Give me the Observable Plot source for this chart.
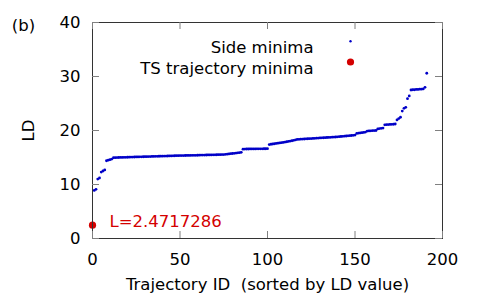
<!DOCTYPE html>
<html><head><meta charset="utf-8">
<script src="https://cdn.jsdelivr.net/npm/d3@7"></script>
<script src="https://cdn.jsdelivr.net/npm/@observablehq/plot@0.6"></script>
<style>
html,body{margin:0;padding:0;background:#fff;}
#chart{position:relative;width:486px;height:300px;}
#chart > svg{position:absolute;left:0;top:0;}
#chart svg.main{font-family:'DejaVu Sans',sans-serif;font-size:16.5px;}
#chart svg.overlay{background:transparent;pointer-events:none;}
</style>
</head><body><div id="chart"></div>
<script>
// Side minima LD values, sorted (trajectory IDs 1..191)
const sideLD = [
  8.9, 9.1, 11.0, 11.2, 12.3, 12.5, 12.7, 14.4, 14.5, 14.6, 14.7,
  14.95, 14.97, 14.98, 15.00, 15.01, 15.02, 15.03, 15.04, 15.05, 15.06,
  15.07, 15.08, 15.09, 15.10, 15.11, 15.12, 15.13, 15.14, 15.15, 15.16,
  15.17, 15.18, 15.19, 15.20, 15.21, 15.22, 15.23, 15.24, 15.25, 15.26,
  15.27, 15.28, 15.29, 15.30, 15.31, 15.32, 15.33, 15.34, 15.35, 15.35,
  15.36, 15.37, 15.38, 15.38, 15.39, 15.40, 15.41, 15.41, 15.42, 15.43,
  15.44, 15.44, 15.45, 15.46, 15.47, 15.47, 15.48, 15.49, 15.50, 15.51,
  15.52, 15.53, 15.54, 15.55, 15.58, 15.62, 15.66, 15.70, 15.74, 15.78,
  15.82, 15.86, 15.90, 15.95,
  16.55, 16.56, 16.57, 16.57, 16.58, 16.58, 16.59, 16.59, 16.60, 16.60, 16.61, 16.61, 16.62, 16.62, 16.63,
  17.40, 17.45, 17.50, 17.55, 17.60, 17.65, 17.70, 17.75, 17.80, 17.86, 17.92, 17.98, 18.04, 18.10, 18.18, 18.26,
  18.35, 18.37, 18.39, 18.41, 18.43, 18.45, 18.47, 18.49, 18.51, 18.53, 18.55, 18.57,
  18.60, 18.62, 18.64, 18.66, 18.68, 18.70, 18.72, 18.74, 18.76, 18.78, 18.80, 18.83, 18.86, 18.89, 18.92, 18.95, 18.98, 19.01, 19.04, 19.07, 19.10, 19.15,
  19.45, 19.50, 19.55, 19.60, 19.65, 19.70,
  19.90, 19.92, 19.94, 19.96, 19.98, 20.00,
  20.30, 20.35, 20.40, 20.45,
  21.05, 21.08, 21.10, 21.12, 21.14, 21.16, 21.20,
  21.95, 22.20, 22.45,
  23.6,
  24.1, 24.3,
  25.9, 26.4,
  27.50, 27.55, 27.55, 27.60, 27.60, 27.65, 27.65, 27.70,
  28.0,
  30.6
];
const tsID = [0];
const tsLD = [2.4717286];
const xTicks = [0, 50, 100, 150, 200];
const yTicks = [0, 10, 20, 30, 40];
const seriesNames = ["Side minima", "TS trajectory minima"];
const panelLabel = "(b)";
const xLabel = "Trajectory ID\u00a0 (sorted by LD value)";
const yLabel = "LD";

const sideData = sideLD.map((v, i) => ({id: i + 1, ld: v}));
const tsData = tsID.map((id, i) => ({id, ld: tsLD[i]}));
const BLUE = "#0000c8", RED = "#d40000", TICK = "#808080", FRAME = "#333333";
const TICKLEN = 7;

const layout = {
  width: 486, height: 300,
  marginLeft: 92, marginRight: 44, marginTop: 22, marginBottom: 62,
  x: {domain: [0, 200], ticks: xTicks},
  y: {domain: [0, 40], ticks: yTicks}
};

const main = Plot.plot({
  ...layout,
  className: "main",
  marks: [
    Plot.axisX(xTicks, {anchor: "bottom", tickSize: 0, tickPadding: 15, label: null}),
    Plot.axisY(yTicks, {anchor: "left", tickSize: 0, tickPadding: 12, label: null}),
    Plot.dot(sideData, {x: "id", y: "ld", r: 1.4, fill: BLUE}),
    Plot.dot(tsData, {x: "id", y: "ld", r: 3.6, fill: RED}),
    Plot.text(tsData, {x: "id", y: "ld", text: d => "L=" + d.ld, dx: 17, dy: -3, textAnchor: "start", fill: RED}),
    Plot.text([seriesNames[0]], {text: d => d, frameAnchor: "top-left", dx: 221, dy: 19, textAnchor: "end"}),
    Plot.text([seriesNames[1]], {text: d => d, frameAnchor: "top-left", dx: 221, dy: 40, textAnchor: "end"}),
    Plot.dot([null], {frameAnchor: "top-left", dx: 258, dy: 18.7, r: 1.2, fill: BLUE}),
    Plot.dot([null], {frameAnchor: "top-left", dx: 258, dy: 39.5, r: 3.6, fill: RED}),
    Plot.text([panelLabel], {text: d => d, frameAnchor: "top-left", dx: -69, dy: -3, textAnchor: "middle"}),
    Plot.text([yLabel], {text: d => d, frameAnchor: "left", dx: -64, rotate: -90, textAnchor: "middle"}),
    Plot.text([xLabel], {text: d => d, frameAnchor: "bottom", dy: 51, textAnchor: "middle"})
  ]
});

// Frame and inward (mirrored) tick marks, drawn as an overlay plot with the same scales
const overlay = Plot.plot({
  ...layout,
  className: "overlay",
  axis: null,
  marks: [
    Plot.frame({stroke: FRAME, strokeWidth: 1}),
    Plot.ruleX(xTicks, {x: d => d, stroke: TICK, insetTop: 216 - TICKLEN}),
    Plot.ruleX(xTicks, {x: d => d, stroke: TICK, insetBottom: 216 - TICKLEN}),
    Plot.ruleY(yTicks, {y: d => d, stroke: TICK, insetRight: 350 - TICKLEN}),
    Plot.ruleY(yTicks, {y: d => d, stroke: TICK, insetLeft: 350 - TICKLEN})
  ]
});

const box = document.getElementById("chart");
box.appendChild(main);
box.appendChild(overlay);
</script>
</body></html>
